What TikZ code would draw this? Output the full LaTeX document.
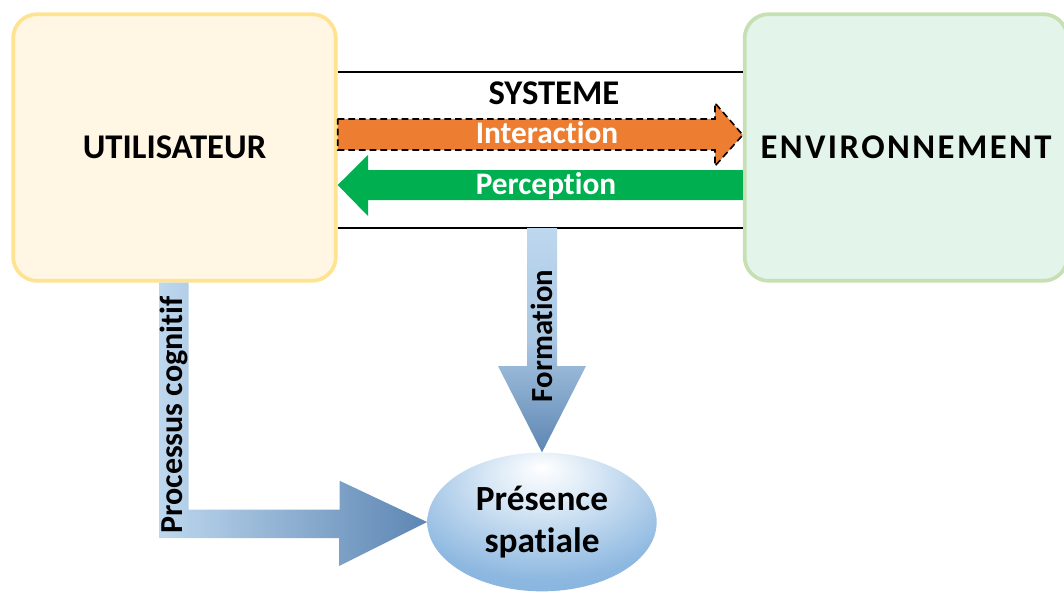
\documentclass[tikz,border=0pt]{standalone}
\usepackage{fontspec}
\setmainfont{Carlito}[Ligatures={NoCommon,NoRare,NoContextual},Contextuals=NoAlternate]
\usetikzlibrary{shapes.geometric,calc}

\definecolor{userfill}{HTML}{FFF7E4}
\definecolor{userline}{HTML}{FFE391}
\definecolor{envfill}{HTML}{E3F4EA}
\definecolor{envline}{HTML}{C6E0B4}
\definecolor{interorange}{HTML}{ED7D31}
\definecolor{percgreen}{HTML}{00B050}
\definecolor{arrowlight}{HTML}{BDD7EE}
\definecolor{arrowdark}{HTML}{5D86B3}
\definecolor{presblue}{HTML}{78AADA}

\pgfdeclareradialshading{presshading}{\pgfpoint{0bp}{20bp}}{color(0bp)=(white);
	color(12bp)=(arrowlight!60!white); color(32bp)=(presblue!70!arrowlight);
	color(50bp)=(presblue); color(72bp)=(presblue)}

\begin{document}
\begin{tikzpicture}[x=0.75pt,y=-0.75pt,
	bigbox/.style={rounded corners=18pt,line width=2.8pt,minimum width=242pt,
		minimum height=200pt,font=\bfseries\fontsize{26}{30}\selectfont},
	arrowtext/.style={text=white,font=\bfseries\fontsize{23.5}{26}\selectfont},
	sidetext/.style={rotate=90,font=\bfseries\fontsize{24}{28}\selectfont},
	blueshaft/.style={left color=arrowlight,right color=arrowdark}]
		\useasboundingbox (0,0) rectangle (1064,592);

		\node[bigbox,draw=userline,fill=userfill] (user) at (174.5,147.5) {UTILISATEUR};
		\node[bigbox,draw=envline,fill=envfill] (env) at (906,147.5)
			{\addfontfeature{LetterSpace=7}ENVIRONNEMENT};

		\node[ellipse,shading=presshading,minimum width=172pt,minimum height=104pt,
			align=center,font=\bfseries\fontsize{26.5}{32}\selectfont] (presence) at (542,522)
			{Présence\\spat\kern0pt iale};

		% systeme
		\draw[line width=1pt] (user.east |- 0,72) -- (env.west |- 0,72);
		\draw[line width=1pt] (user.east |- 0,228) -- (env.west |- 0,228);
		\node[font=\bfseries\fontsize{26}{28}\selectfont] (systeme) at (554,93) {SYSTEME};

		\filldraw[fill=interorange,draw=black,line width=1.2pt,dash pattern=on 5pt off 3pt]
			(user.east |- 0,119) -- (715,119) -- (715,103) -- (env.west |- 0,135)
			-- (715,166) -- (715,150) -- (user.east |- 0,150) -- cycle;
		\node[arrowtext] (interaction) at (547,133) {Interact\kern0pt ion};

		\fill[percgreen] (env.west |- 0,170) -- (368,170) -- (368,155) -- (user.east |- 0,185)
			-- (368,216) -- (368,200) -- (env.west |- 0,200) -- cycle;
		\node[arrowtext] (perception) at (546,186) {Percept\kern0pt ion};

		% formation
		\shade[top color=arrowlight,bottom color=arrowdark,middle color=arrowlight!80!arrowdark]
			(527,228) -- (557,228) -- (557,366) -- (586,366) -- (presence.north)
			-- (498,366) -- (527,366) -- cycle;
		\node[sidetext,font=\bfseries\fontsize{23}{26}\selectfont] (formation) at (542,336)
			{Format\kern0pt ion};

		% processus cognitif
		\shade[blueshaft] ($(user.south)+(-15,0)$) -- ++(29,0) -- ++(0,227) -- ++(151,0)
			-- ++(0,-29) -- (presence.west) -- (339,566) -- (339,538) -- (159.5,538) -- cycle;
		\node[sidetext] (cognitif) at (174,415) {Processus cognit\kern0pt if};

		\end{tikzpicture}
\end{document}
